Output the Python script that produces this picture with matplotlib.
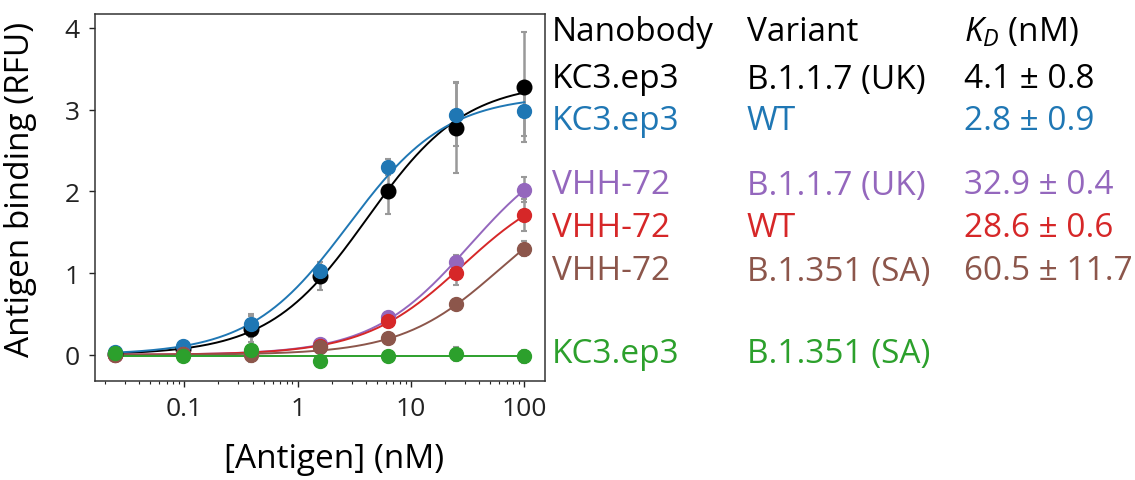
import numpy as np
import matplotlib
matplotlib.use('Agg')
import matplotlib.pyplot as plt
from matplotlib.ticker import FixedLocator, FixedFormatter, LogLocator, NullFormatter

plt.rcParams['font.family'] = ['Open Sans', 'DejaVu Sans']
plt.rcParams['mathtext.fontset'] = 'custom'
plt.rcParams['mathtext.rm'] = 'Open Sans'
plt.rcParams['mathtext.it'] = 'Open Sans:italic'

# antigen concentrations (nM), 4-fold dilution series
conc = [0.0244, 0.0977, 0.391, 1.5625, 6.25, 25, 100]

# mean binding (RFU) per series
kc3_uk = [0.01, 0.07, 0.32, 0.96, 2.01, 2.78, 3.28]
kc3_wt = [0.03, 0.11, 0.38, 1.03, 2.30, 2.94, 2.98]
vhh_uk = [0.00, 0.01, 0.02, 0.13, 0.46, 1.14, 2.02]
vhh_wt = [0.00, 0.01, 0.02, 0.11, 0.42, 1.00, 1.71]
vhh_sa = [0.00, 0.01, 0.00, 0.09, 0.20, 0.62, 1.30]
kc3_sa = [0.02, -0.02, 0.065, -0.07, -0.02, 0.01, -0.02]

# error bars
kc3_uk_err = [0.01, 0.03, 0.16, 0.17, 0.29, 0.56, 0.67]
kc3_wt_err = [0.02, 0.04, 0.12, 0.10, 0.10, 0.38, 0.30]
vhh_uk_err = [0.01, 0.01, 0.02, 0.03, 0.05, 0.08, 0.15]
vhh_wt_err = [0.01, 0.01, 0.02, 0.03, 0.05, 0.15, 0.20]
vhh_sa_err = [0.01, 0.01, 0.02, 0.02, 0.03, 0.05, 0.09]
kc3_sa_err = [0.02, 0.02, 0.15, 0.03, 0.03, 0.09, 0.08]

# table text
nanobodies = ['KC3.ep3', 'KC3.ep3', 'VHH-72', 'VHH-72', 'VHH-72', 'KC3.ep3']
variants = ['B.1.1.7 (UK)', 'WT', 'B.1.1.7 (UK)', 'WT', 'B.1.351 (SA)', 'B.1.351 (SA)']
kd = [4.1, 2.8, 32.9, 28.6, 60.5, None]
kd_err = [0.8, 0.9, 0.4, 0.6, 11.7, None]
colors = ['black', '#1f77b4', '#9467bd', '#d62728', '#8c564b', '#2ca02c']
row_y = [80, 122, 186, 229, 272, 355]  # pixel rows of the table

series = [kc3_uk, kc3_wt, vhh_uk, vhh_wt, vhh_sa, kc3_sa]
errs = [kc3_uk_err, kc3_wt_err, vhh_uk_err, vhh_wt_err, vhh_sa_err, kc3_sa_err]
draw_order = [5, 1, 0, 3, 2, 4]

W, H = 1135, 481
fig = plt.figure(figsize=(W / 100, H / 100), dpi=100)
ax = fig.add_axes([95 / W, (H - 382) / H, 450 / W, 367 / H])

x = np.array(conc)
xs = np.logspace(np.log10(x[0]), np.log10(x[-1]), 300)

for i in draw_order:
    y = np.array(series[i])
    c = colors[i]
    ax.errorbar(x, y, yerr=errs[i], fmt='none', ecolor='#999999',
                elinewidth=1.8, capsize=2, capthick=1.5, zorder=1)
    if kd[i] is not None:
        # one-site binding fit with fixed KD, least-squares Bmax
        f = x / (kd[i] + x)
        bmax = np.sum(y * f) / np.sum(f * f)
        ax.plot(xs, bmax * xs / (kd[i] + xs), color=c, lw=1.4, zorder=2 + i)
    else:
        ax.plot(xs, np.full_like(xs, np.median(y)), color=c, lw=1.4, zorder=2 + i)
    ax.plot(x, y, 'o', color=c, ms=10.5 if i == 0 else 10, zorder=10 + i)

ax.set_xscale('log')
ax.set_xlim(0.0163, 152)
ax.set_ylim(-0.32, 4.17)
ax.xaxis.set_major_locator(FixedLocator([0.1, 1, 10, 100]))
ax.xaxis.set_major_formatter(FixedFormatter(['0.1', '1', '10', '100']))
ax.xaxis.set_minor_locator(LogLocator(base=10, subs=np.arange(2, 10)))
ax.xaxis.set_minor_formatter(NullFormatter())
ax.set_yticks([0, 1, 2, 3, 4])
ax.tick_params(axis='both', which='major', labelsize=19, length=4, width=1, pad=7, colors='#222222')
ax.tick_params(axis='x', which='minor', length=2, width=0.8, colors='#222222')
for sp in ax.spines.values():
    sp.set_color('#333333')
    sp.set_linewidth(1.1)

ax.set_xlabel('[Antigen] (nM)', fontsize=24)
ax.set_ylabel('Antigen binding (RFU)', fontsize=24)
ax.xaxis.set_label_coords(0.531, -0.165)
ax.yaxis.set_label_coords(-0.128, 0.526)

col_x = [552, 747, 964]
fs = 24


def put(px, py, s, c):
    fig.text(px / W, 1 - py / H, s, color=c, fontsize=fs, va='center', ha='left')


put(col_x[0], 33, 'Nanobody', 'black')
put(col_x[1], 33, 'Variant', 'black')
put(col_x[2], 33, '$K_D$ (nM)', 'black')
for i in range(len(nanobodies)):
    put(col_x[0], row_y[i], nanobodies[i], colors[i])
    put(col_x[1], row_y[i], variants[i], colors[i])
    if kd[i] is not None:
        put(col_x[2], row_y[i], f'{kd[i]} ± {kd_err[i]}', colors[i])

fig.savefig('out.png', dpi=100)
